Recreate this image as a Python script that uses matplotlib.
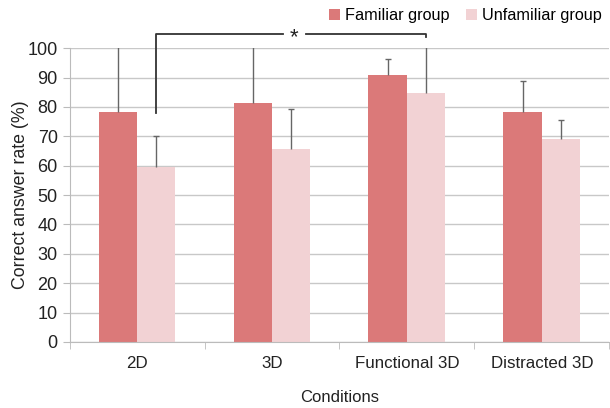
import matplotlib
matplotlib.use("Agg")
import matplotlib.pyplot as plt
import numpy as np

categories = ["2D", "3D", "Functional 3D", "Distracted 3D"]
familiar = [78.2, 81.2, 90.8, 78.3]
familiar_err = [25.0, 22.0, 5.5, 10.5]
unfamiliar = [59.5, 65.6, 84.6, 69.0]
unfamiliar_err = [10.5, 13.7, 20.0, 6.4]

c_fam = "#DB7979"
c_unf = "#F2D2D4"

plt.rcParams['font.family'] = ['Liberation Sans', 'DejaVu Sans']
fig = plt.figure(figsize=(6.1, 4.08), dpi=100)
ax = fig.add_axes([0.114, 0.162, 0.885, 0.72])

x = np.arange(len(categories))
w = 0.285
ax.bar(x - w/2, familiar, w, color=c_fam, label="Familiar group", zorder=2)
ax.bar(x + w/2, unfamiliar, w, color=c_unf, label="Unfamiliar group", zorder=2)

def up_err(xs, vals, errs):
    vals = np.asarray(vals); errs = np.asarray(errs)
    tops = vals + errs
    ax.vlines(xs, vals, tops, color="#666666", linewidth=1, zorder=3)
    vis = tops <= 100
    ax.scatter(np.asarray(xs)[vis], tops[vis], marker="_", s=25, color="#666666",
               linewidths=1, zorder=3)

up_err(x - w/2, familiar, familiar_err)
up_err(x + w/2, unfamiliar, unfamiliar_err)

ax.set_xlim(-0.5, 3.5)
ax.set_ylim(0, 100)
ax.set_yticks(np.arange(0, 101, 10))
ax.yaxis.grid(True, color="#C8C8C8", linewidth=1, zorder=0)
ax.set_axisbelow(True)
ax.set_xticks(x)
ax.set_xticklabels(categories)
ax.set_xticks(np.arange(-0.5, 4.0, 1.0), minor=True)
ax.tick_params(axis='x', which='major', length=0, pad=10, labelsize=12.2, colors="#222222")
ax.tick_params(axis='x', which='minor', length=5, color="#BBBBBB")
ax.tick_params(axis='y', length=5, color="#BBBBBB", labelsize=13, labelcolor="#222222")
for s in ["top", "right"]:
    ax.spines[s].set_visible(False)
ax.spines["left"].set_color("#BBBBBB")
ax.spines["bottom"].set_color("#BBBBBB")

ax.set_ylabel("Correct answer rate (%)", fontsize=12.8, color="#222222", labelpad=-1)
ax.set_xlabel("Conditions", fontsize=12, color="#222222", labelpad=14)

# significance bracket
x1 = x[0] + w/2
x2 = x[2] + w/2
ytop = 104.8
kw = dict(color="#333333", linewidth=1.3, clip_on=False, zorder=4)
ax.plot([x1, x1, 1.08], [78, ytop, ytop], **kw)
ax.plot([1.25, x2, x2], [ytop, ytop, 103.8], **kw)
ax.text(1.163, ytop - 1.3, "*", ha="center", va="center", fontsize=16, color="#222222")

leg = fig.legend(loc="upper right", bbox_to_anchor=(1.0, 1.0), ncol=2, frameon=False,
                 fontsize=11.7, handlelength=0.7, handleheight=0.7, handletextpad=0.3,
                 columnspacing=1.0, borderaxespad=0.1)

fig.savefig("out.png", dpi=100)
